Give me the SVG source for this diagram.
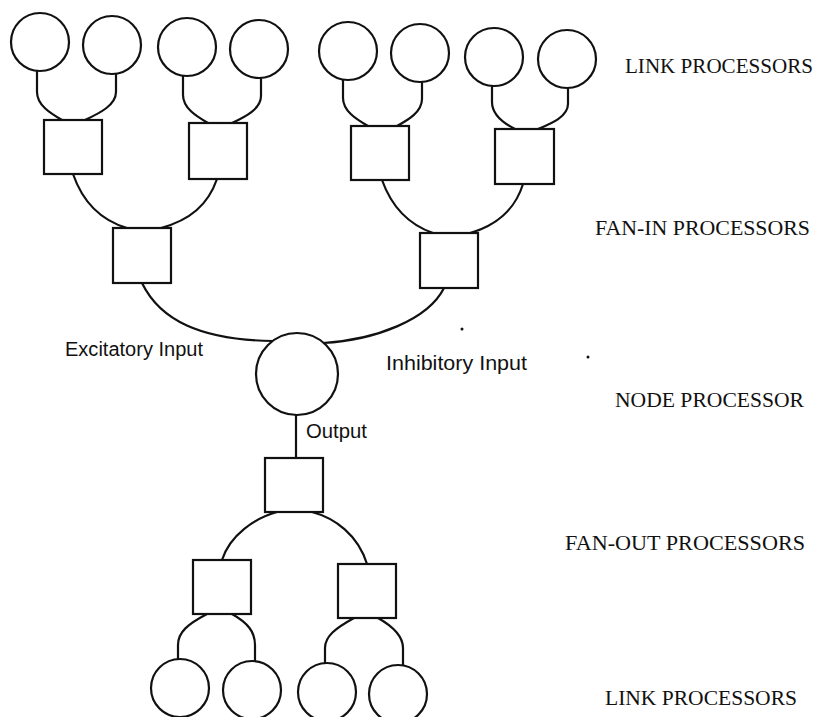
<svg xmlns="http://www.w3.org/2000/svg" width="820" height="717" viewBox="0 0 820 717">
<style>
.n{fill:#fff;stroke:#111;stroke-width:2.2}
.c{fill:none;stroke:#111;stroke-width:2.2}
.cap{font-family:"Liberation Serif","Times New Roman",serif;font-size:21px;fill:#111}
.lc{font-family:"Liberation Sans",Arial,sans-serif;font-size:20px;fill:#111}
</style>
<rect width="820" height="717" fill="#fff"/>
<g id="connectors">
<path class="c" d="M37,71 L37,92 C37,105 50,113 62,120"/>
<path class="c" d="M116,74 L116,92 C116,105 100,113 85,120"/>
<path class="c" d="M183,76 L183,95 C183,108 196,116 208,123"/>
<path class="c" d="M261,78 L261,96 C261,109 245,117 232,123"/>
<path class="c" d="M343,80 L343,98 C343,111 356,119 368,126"/>
<path class="c" d="M422,82 L422,99 C422,112 408,120 397,126"/>
<path class="c" d="M492,86 L492,102 C492,115 503,123 515,129"/>
<path class="c" d="M568,88 L568,104 C568,117 550,124 538,129"/>
<path class="c" d="M73,174 C82,200 100,220 127,228"/>
<path class="c" d="M217,179 C208,205 190,220 161,228"/>
<path class="c" d="M382,180 C392,208 410,225 433,233"/>
<path class="c" d="M523,184 C515,210 495,226 470,233"/>
<path class="c" d="M142,283 C160,320 200,340 273,341"/>
<path class="c" d="M323,343 C375,340 428,320 444,288"/>
<path class="c" d="M296,415 L296,458"/>
<path class="c" d="M222,560 C230,535 255,518 277,512"/>
<path class="c" d="M312,512 C335,518 358,535 367,564"/>
<path class="c" d="M207,614 C188,624 178,632 178,645 L178,659"/>
<path class="c" d="M232,614 C248,623 255,632 255,645 L255,661"/>
<path class="c" d="M354,618 C336,628 325,636 325,648 L325,663"/>
<path class="c" d="M378,618 C394,627 403,636 403,648 L403,665"/>
</g>
<g id="link-top-1"><circle class="n" cx="40" cy="42" r="29"/></g>
<g id="link-top-2"><circle class="n" cx="112" cy="45" r="29"/></g>
<g id="link-top-3"><circle class="n" cx="187" cy="47" r="29"/></g>
<g id="link-top-4"><circle class="n" cx="259" cy="49" r="29"/></g>
<g id="link-top-5"><circle class="n" cx="348" cy="51" r="29"/></g>
<g id="link-top-6"><circle class="n" cx="420" cy="53" r="29"/></g>
<g id="link-top-7"><circle class="n" cx="494" cy="57" r="29"/></g>
<g id="link-top-8"><circle class="n" cx="567" cy="59" r="29"/></g>
<g id="fanin-1"><rect class="n" x="44" y="120" width="58" height="54"/></g>
<g id="fanin-2"><rect class="n" x="189" y="123" width="58" height="56"/></g>
<g id="fanin-3"><rect class="n" x="351" y="126" width="58" height="54"/></g>
<g id="fanin-4"><rect class="n" x="495" y="129" width="59" height="55"/></g>
<g id="fanin-5"><rect class="n" x="113" y="228" width="58" height="55"/></g>
<g id="fanin-6"><rect class="n" x="420" y="233" width="58" height="55"/></g>
<g id="node"><circle class="n" cx="297" cy="374" r="41"/></g>
<g id="fanout-1"><rect class="n" x="265" y="458" width="58" height="54"/></g>
<g id="fanout-2"><rect class="n" x="193" y="560" width="58" height="54"/></g>
<g id="fanout-3"><rect class="n" x="338" y="564" width="58" height="54"/></g>
<g id="link-bot-1"><circle class="n" cx="180" cy="688" r="29"/></g>
<g id="link-bot-2"><circle class="n" cx="252" cy="690" r="29"/></g>
<g id="link-bot-3"><circle class="n" cx="327" cy="692" r="29"/></g>
<g id="link-bot-4"><circle class="n" cx="398" cy="694" r="29"/></g>
<g id="labels">
<text class="cap" x="625" y="73" textLength="188" lengthAdjust="spacingAndGlyphs">LINK PROCESSORS</text>
<text class="cap" x="595" y="235" textLength="215" lengthAdjust="spacingAndGlyphs">FAN-IN PROCESSORS</text>
<text class="cap" x="615" y="407" textLength="189" lengthAdjust="spacingAndGlyphs">NODE PROCESSOR</text>
<text class="cap" x="565" y="550" textLength="240" lengthAdjust="spacingAndGlyphs">FAN-OUT PROCESSORS</text>
<text class="cap" x="605" y="705" textLength="192" lengthAdjust="spacingAndGlyphs">LINK PROCESSORS</text>
<text class="lc" x="65" y="356" textLength="138" lengthAdjust="spacingAndGlyphs">Excitatory Input</text>
<text class="lc" x="386" y="370" textLength="141" lengthAdjust="spacingAndGlyphs">Inhibitory Input</text>
<text class="lc" x="306" y="438" textLength="61" lengthAdjust="spacingAndGlyphs">Output</text>
</g>
<circle cx="462" cy="329" r="1.5" fill="#111"/>
<circle cx="588" cy="357" r="1.5" fill="#111"/>
</svg>
